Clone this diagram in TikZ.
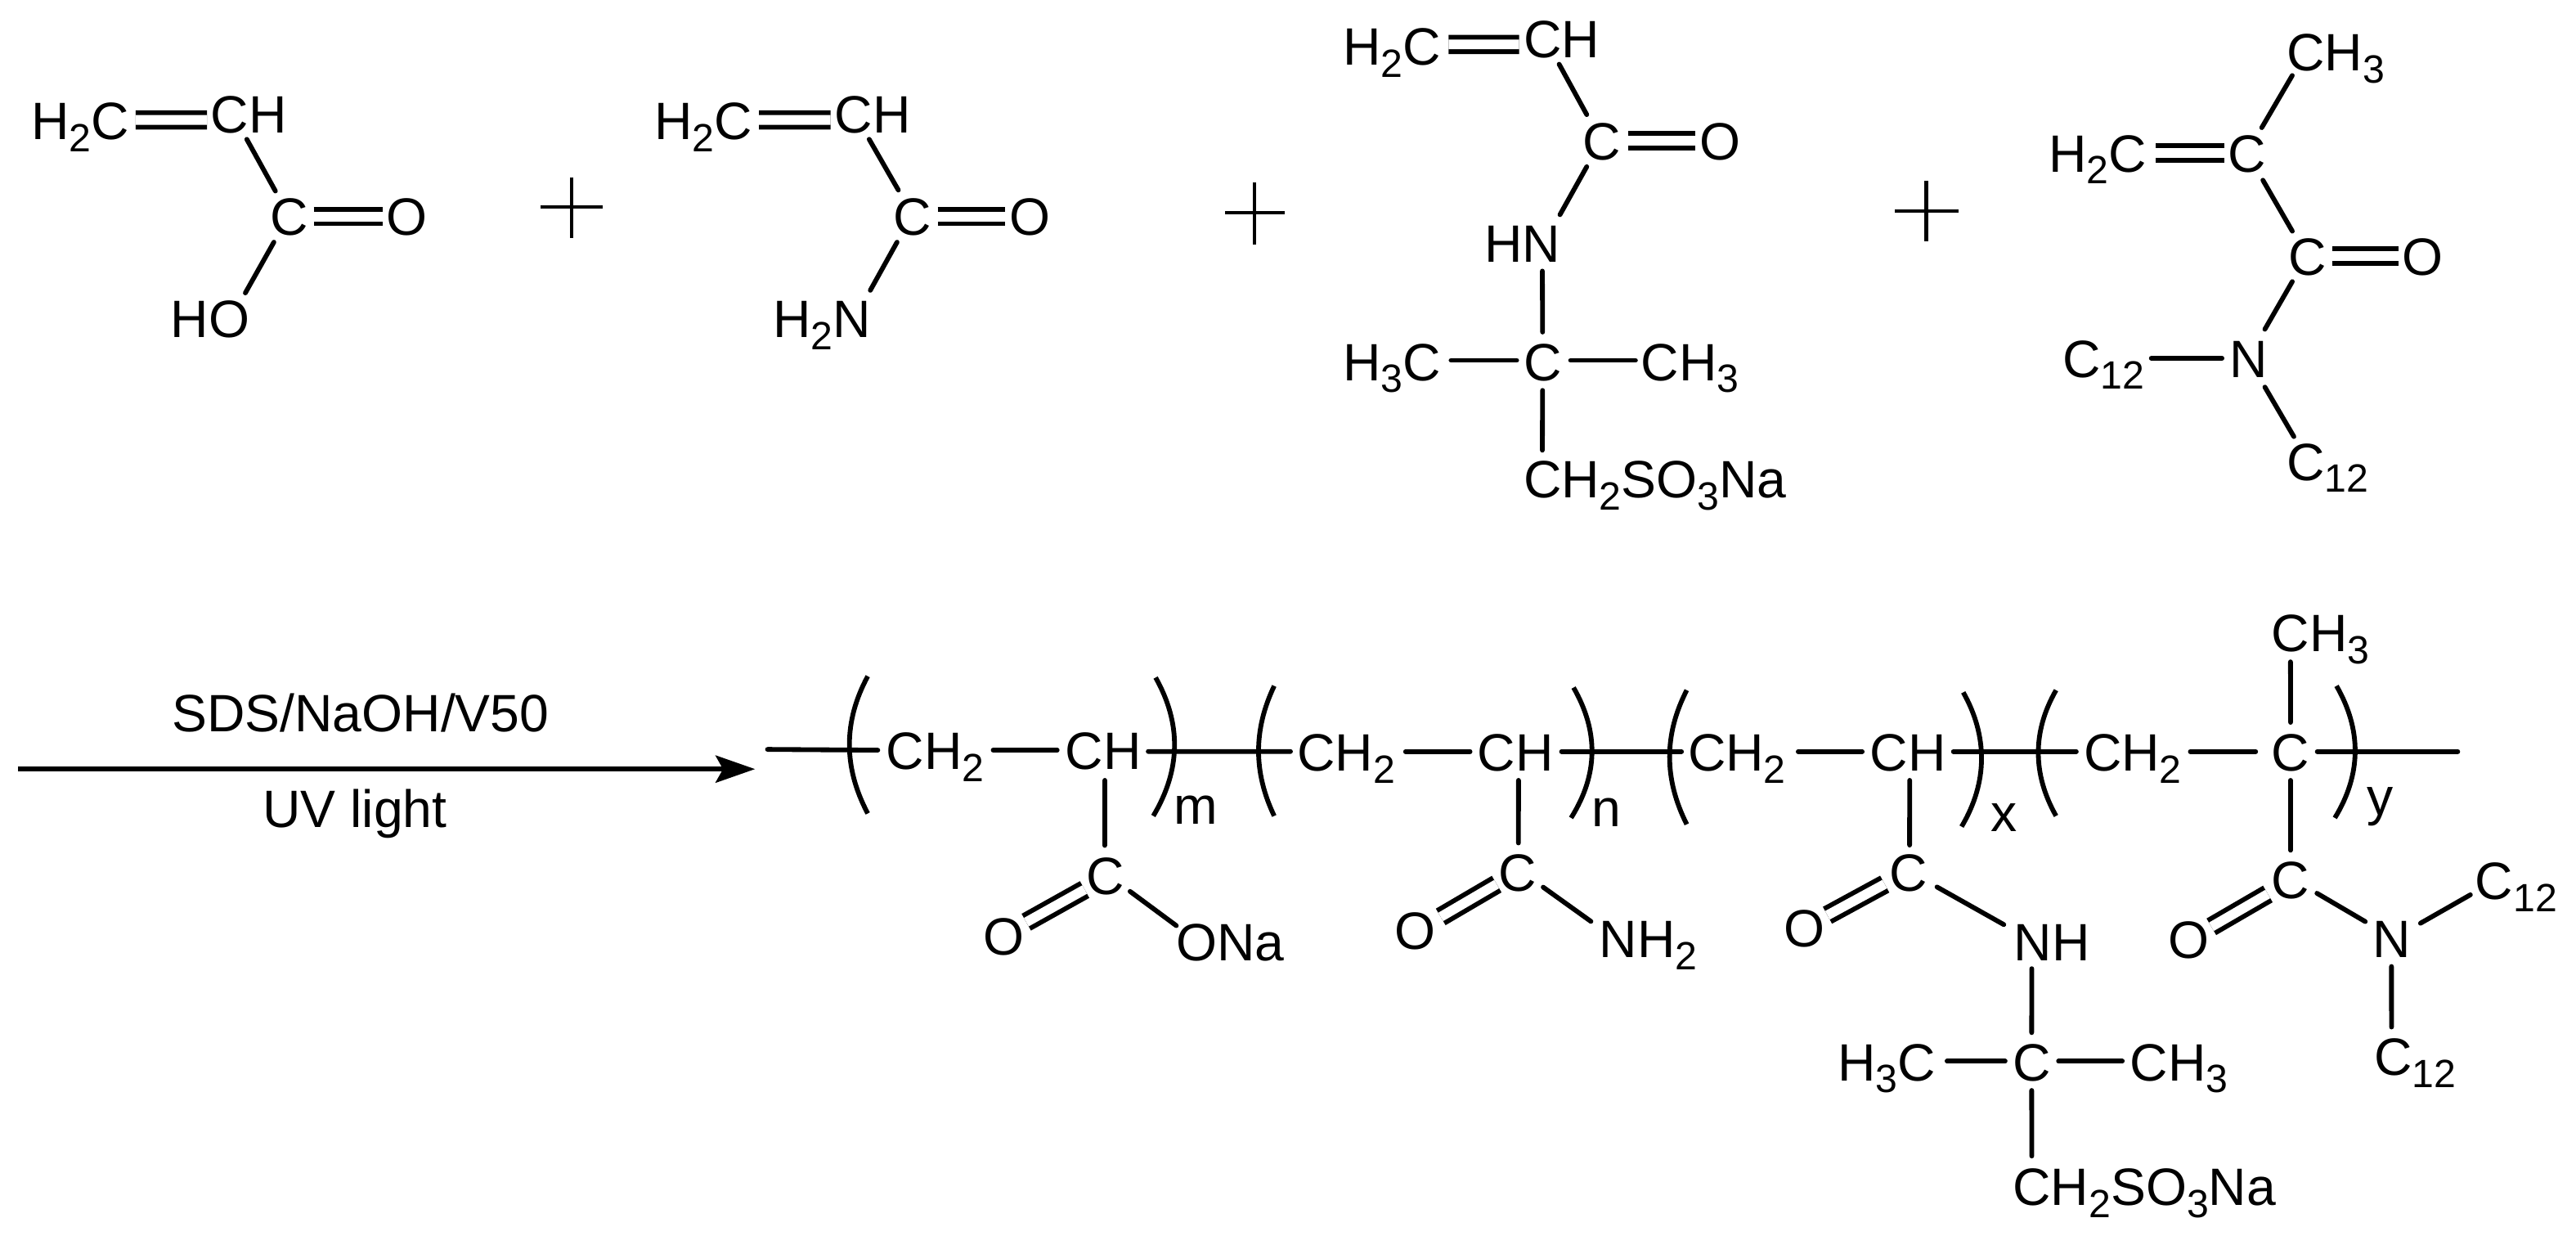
\documentclass[tikz,border=0pt]{standalone}
\usepackage{fontspec}
\setmainfont{Liberation Sans}
\usetikzlibrary{arrows.meta}
\newcommand{\sbs}[1]{\raisebox{-.23em}{\fontsize{13.65}{14}\selectfont #1}}

\begin{document}
\begin{tikzpicture}[x=0.02cm,y=-0.02cm]
            \tikzstyle{every node}=[font=\fontsize{18.21}{20}\selectfont]
            \tikzstyle{atom}=[anchor=west,inner sep=0pt,outer sep=0pt,text height=.462cm,text depth=0pt]
            \tikzstyle{bond}=[line width=.058cm,line cap=round,shorten <=.03cm,shorten >=.03cm]
            \tikzstyle{dbond}=[line width=.058cm,double,double distance=.118cm]
            \tikzstyle{paren}=[line width=.058cm]
            \tikzstyle{cross}=[line width=.042cm]
            \useasboundingbox (0,0) rectangle (1568,752);
            \node [atom] (a1) at (19,73.5) {H\sbs{2}C};
            \node [atom] (a2) at (128.4,69.5) {CH};
            \node [atom] (a3) at (164.4,131.7) {C};
            \node [atom] (a4) at (235.4,131.7) {O};
            \node [atom] (a5) at (104,194) {HO};
            \draw[dbond] ([shift={(4,-.5)}]a1.east) -- ([shift={(-2.4,3.5)}]a2.west);
            \draw[bond] ([shift={(-2,2.4)}]a2.south) -- ([shift={(-7.6,-2.6)}]a3.north);
            \draw[dbond] ([shift={(3.5,0)}]a3.east) -- ([shift={(-2.4,0)}]a4.west);
            \draw[bond] ([shift={(-8.5,2.8)}]a3.south) -- ([shift={(20.6,-2.9)}]a5.north);
            \coordinate (p1) at (348,126);
            \draw[cross] (p1)+(-19,0) -- +(19,0);
            \draw[cross] (p1)+(0,-18) -- +(0,19);
            \node [atom] (b1) at (398.5,73.5) {H\sbs{2}C};
            \node [atom] (b2) at (508.1,69.5) {CH};
            \node [atom] (b3) at (544,131.7) {C};
            \node [atom] (b4) at (614.4,131.7) {O};
            \node [atom] (b5) at (470.5,194) {H\sbs{2}N};
            \draw[dbond] ([shift={(4,-.5)}]b1.east) -- ([shift={(-2.5,3.5)}]b2.west);
            \draw[bond] ([shift={(-2.9,2.4)}]b2.south) -- ([shift={(-8,-3.2)}]b3.north);
            \draw[dbond] ([shift={(3.7,0)}]b3.east) -- ([shift={(-2.8,0)}]b4.west);
            \draw[bond] ([shift={(-8.8,2.8)}]b3.south) -- ([shift={(28.75,-4.5)}]b5.north);
            \coordinate (p2) at (763.4,129.5);
            \draw[cross] (p2)+(-17.5,0) -- +(18.5,0);
            \draw[cross] (p2)+(0,-18.5) -- +(0,19.2);
            \node [atom] (c1) at (817.5,27.9) {H\sbs{2}C};
            \node [atom] (c2) at (927.4,23.5) {CH};
            \node [atom] (c3) at (963.4,85.6) {C};
            \node [atom] (c4) at (1034.4,85.6) {O};
            \node [atom] (c5) at (903.5,148) {HN};
            \node [atom] (c6) at (817.5,220) {H\sbs{3}C};
            \node [atom] (c7) at (927.4,220) {C};
            \node [atom] (c8) at (999,220) {CH\sbs{3}};
            \node [atom] (c9) at (927.4,291.5) {CH\sbs{2}SO\sbs{3}Na};
            \draw[dbond] ([shift={(4.7,-.9)}]c1.east) -- ([shift={(-2.7,3.5)}]c2.west);
            \draw[bond] ([shift={(-2.2,2.7)}]c2.south) -- ([shift={(-8.4,-3)}]c3.north);
            \draw[dbond] ([shift={(4.5,0)}]c3.east) -- ([shift={(-2.4,0)}]c4.west);
            \draw[bond] ([shift={(-8.4,3)}]c3.south) -- ([shift={(22.2,-4.5)}]c5.north);
            \draw[bond] ([shift={(12.2,3.9)}]c5.south) -- ([shift={(0,-4.9)}]c7.north);
            \draw[bond] ([shift={(4.7,-.7)}]c6.east) -- ([shift={(-2.7,-.7)}]c7.west);
            \draw[bond] ([shift={(4,-.7)}]c7.east) -- ([shift={(-2,-.7)}]c8.west);
            \draw[bond] ([shift={(0,4.5)}]c7.south) -- ([shift={(11.4,-4.5)}]c9.north west);
            \coordinate (p3) at (1172.5,128.4);
            \draw[cross] (p3)+(-19,0) -- +(19.5,0);
            \draw[cross] (p3)+(0,-18.4) -- +(0,18.6);
            \node [atom] (d1) at (1392,31.5) {CH\sbs{3}};
            \node [atom] (d2) at (1247,93) {H\sbs{2}C};
            \node [atom] (d3) at (1356.4,93) {C};
            \node [atom] (d4) at (1393,156) {C};
            \node [atom] (d5) at (1462.4,156) {O};
            \node [atom] (d6) at (1255.4,218) {C\sbs{12}};
            \node [atom] (d7) at (1357,218) {N};
            \node [atom] (d8) at (1392,280.7) {C\sbs{12}};
            \draw[bond] ([shift={(-25.75,1.6)}]d1.south) -- ([shift={(8,-2.5)}]d3.north);
            \draw[dbond] ([shift={(5.8,0)}]d2.east) -- ([shift={(-2.4,0)}]d3.west);
            \draw[bond] ([shift={(8.7,3.8)}]d3.south) -- ([shift={(-8.5,-2.5)}]d4.north);
            \draw[dbond] ([shift={(3.7,-.2)}]d4.east) -- ([shift={(-2.4,-.2)}]d5.west);
            \draw[bond] ([shift={(-8.5,2.5)}]d4.south) -- ([shift={(9.3,-4.8)}]d7.north);
            \draw[bond] ([shift={(2.8,0)}]d6.east) -- ([shift={(-3,0)}]d7.west);
            \draw[bond] ([shift={(9.3,4.7)}]d7.south) -- ([shift={(-19.9,-2.2)}]d8.north);
            \node [atom,anchor=center] (t1) at (219.5,433.5) {SDS/NaOH/V50};
            \node [atom,anchor=center] (t2) at (216,491.7) {UV light};
            \coordinate (r1) at (11,468);
            \coordinate (r2) at (459.6,468);
            \draw[line width=.058cm,-{Stealth[length=.48cm,width=.33cm,inset=.09cm]}] (r1) -- (r2);
            \coordinate (e0) at (465.7,456);
            \node [atom] (e1) at (539.4,456.5) {CH\sbs{2}};
            \node [atom] (e2) at (648.4,456.5) {CH};
            \node [atom] (e3) at (661.4,533) {C};
            \node [atom] (e4) at (598.4,569.7) {O};
            \node [atom] (e5) at (716,573) {ONa};
            \node [atom] (e6) at (714.5,490) {m};
            \node [atom] (f1) at (789.7,457.8) {CH\sbs{2}};
            \node [atom] (f2) at (899.4,457.8) {CH};
            \node [atom] (f3) at (912,531) {C};
            \node [atom] (f4) at (849,566) {O};
            \node [atom] (f5) at (973.5,571) {NH\sbs{2}};
            \node [atom] (f6) at (968.8,491.5) {n};
            \node [atom] (g1) at (1027.4,457.8) {CH\sbs{2}};
            \node [atom] (g2) at (1138.2,457.8) {CH};
            \node [atom] (g3) at (1150,531) {C};
            \node [atom] (g4) at (1086.1,564.5) {O};
            \node [atom] (g5) at (1226,573) {NH};
            \node [atom] (g6) at (1118.5,646) {H\sbs{3}C};
            \node [atom] (g7) at (1225.3,646) {C};
            \node [atom] (g8) at (1296.6,646) {CH\sbs{3}};
            \node [atom] (g9) at (1225.3,721.8) {CH\sbs{2}SO\sbs{3}Na};
            \node [atom] (g0) at (1212,494.5) {x};
            \node [atom] (h1) at (1268.4,457.8) {CH\sbs{2}};
            \node [atom] (h2) at (1382.7,457.8) {C};
            \node [atom] (h3) at (1382.7,385) {CH\sbs{3}};
            \node [atom] (h4) at (1382.7,535.4) {C};
            \node [atom] (h5) at (1319.8,571.5) {O};
            \node [atom] (h6) at (1444.3,571) {N};
            \node [atom] (h7) at (1506.7,535.6) {C\sbs{12}};
            \node [atom] (h8) at (1445.2,643) {C\sbs{12}};
            \node [atom] (h9) at (1441,484.5) {y};
            \coordinate (h0) at (1497.5,457.3);
            \draw[bond] (e0) -- ([shift={(-3.6,0)}]e1.west);
            \draw[bond] ([shift={(4.1,0)}]e1.east) -- ([shift={(-3.4,0)}]e2.west);
            \draw[bond] ([shift={(2.8,.8)}]e2.east) -- ([shift={(-2.7,-.5)}]f1.west);
            \draw[bond] ([shift={(1,5.3)}]e2.south) -- ([shift={(-.5,-5.5)}]e3.north);
            \draw[dbond] ([shift={(-1.2,8.3)}]e3.west) -- ([shift={(13.85,3)}]e4.north);
            \draw[bond] ([shift={(13.7,-3)}]e3.south) -- ([shift={(1.2,2.7)}]e5.north west);
            \draw[bond] ([shift={(4.8,-.5)}]f1.east) -- ([shift={(-3.1,-.5)}]f2.west);
            \draw[bond] ([shift={(1.8,4)}]f2.south) -- ([shift={(.7,-5)}]f3.north);
            \draw[dbond] ([shift={(-1,7)}]f3.west) -- ([shift={(15.5,3.5)}]f4.north);
            \draw[bond] ([shift={(3,8)}]f3.east) -- ([shift={(-3.9,2.1)}]f5.north west);
            \draw[bond] ([shift={(3.4,-.5)}]f2.east) -- ([shift={(-2.4,-.5)}]g1.west);
            \draw[bond] ([shift={(6.1,-.5)}]g1.east) -- ([shift={(-3.2,-.5)}]g2.west);
            \draw[bond] ([shift={(1.1,4)}]g2.south) -- ([shift={(.8,-3.7)}]g3.north);
            \draw[dbond] ([shift={(-2.8,7)}]g3.west) -- ([shift={(13.8,4)}]g4.north);
            \draw[bond] ([shift={(4.6,8)}]g3.east) -- ([shift={(-5,1.9)}]g5.north west);
            \draw[bond] ([shift={(-12.4,3.4)}]g5.south) -- ([shift={(-.2,-4.6)}]g7.north);
            \draw[bond] ([shift={(5.6,-.2)}]g6.east) -- ([shift={(-3.3,-.2)}]g7.west);
            \draw[bond] ([shift={(3.1,-.2)}]g7.east) -- ([shift={(-3.3,-.2)}]g8.west);
            \draw[bond] ([shift={(-.2,4.5)}]g7.south) -- ([shift={(11.4,-5.3)}]g9.north west);
            \draw[bond] ([shift={(3.1,-.5)}]g2.east) -- ([shift={(-3.1,-.5)}]h1.west);
            \draw[bond] ([shift={(3.8,-.5)}]h1.east) -- ([shift={(-8.2,-.5)}]h2.west);
            \draw[bond] ([shift={(11.5,4.7)}]h3.south west) -- ([shift={(0,-5.2)}]h2.north);
            \draw[bond] ([shift={(0,4)}]h2.south) -- ([shift={(0,-5)}]h4.north);
            \draw[dbond] ([shift={(-2.3,8.6)}]h4.west) -- ([shift={(13.8,4)}]h5.north);
            \draw[bond] ([shift={(3.2,7.4)}]h4.east) -- ([shift={(-3.3,2.1)}]h6.north west);
            \draw[bond] ([shift={(4.6,3.1)}]h6.north east) -- ([shift={(-1.7,-3.4)}]h7.south west);
            \draw[bond] ([shift={(-.2,4.1)}]h6.south) -- ([shift={(10.5,-5)}]h8.north west);
            \draw[bond] ([shift={(3.2,-.5)}]h2.east) -- (h0);
            \draw[paren] (528.2,411.5) .. controls (513.3,439) and (513.3,467) .. (528.2,495);
            \draw[paren] (703.4,412.3) .. controls (719,440) and (719,468) .. (702,496.5);
            \draw[paren] (775.6,417.4) .. controls (762.9,444) and (762.9,470) .. (775.6,496.5);
            \draw[paren] (957.8,418.4) .. controls (973,445) and (973,471) .. (956.3,497.7);
            \draw[paren] (1026.7,420) .. controls (1012.8,447) and (1012.8,474) .. (1026.7,501.6);
            \draw[paren] (1195,421.3) .. controls (1210,448) and (1210,476) .. (1194,503);
            \draw[paren] (1251.5,420) .. controls (1237.1,445) and (1237.1,471) .. (1251.5,496.5);
            \draw[paren] (1422.2,417.4) .. controls (1437.5,444) and (1437.5,471) .. (1421.2,497.7);
        \end{tikzpicture}
\end{document}
